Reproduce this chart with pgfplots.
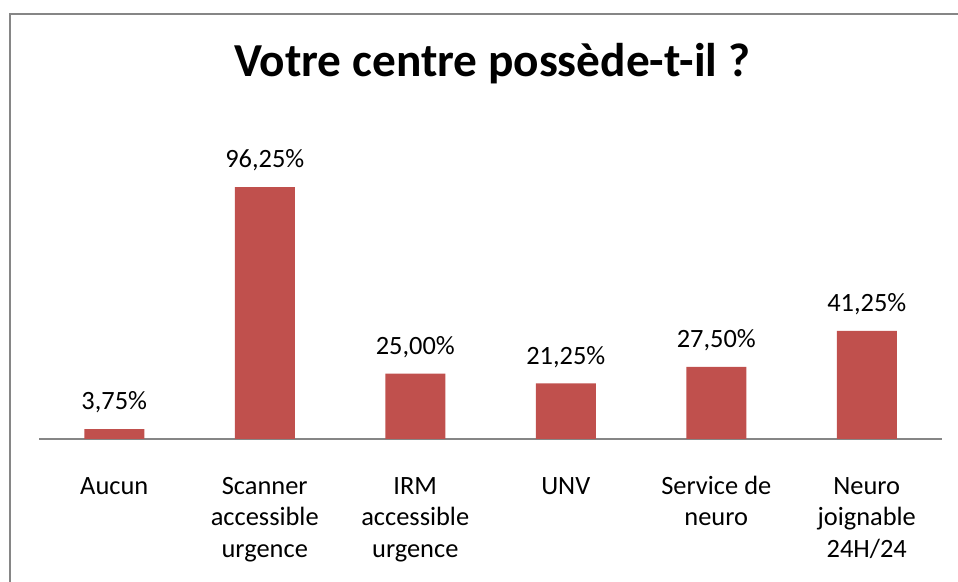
\documentclass[border=0pt]{standalone}
\usepackage{pgfplots}
\pgfplotsset{compat=1.18}
\usepackage{fontspec}
\setmainfont{Carlito}
\definecolor{barred}{RGB}{192,80,77}
\definecolor{framegray}{RGB}{134,134,134}
\begin{document}
\begin{tikzpicture}[x=1bp,y=1bp]
\useasboundingbox (0,0) rectangle (958,582);
\draw[framegray, line width=2.5bp] (10,-5) -- (10,568) -- (963,568);
\node[anchor=base, inner sep=0pt, font=\fontsize{47.5}{55}\selectfont\bfseries] at (492,505) {Votre centre possède-t-il ?};
\begin{axis}[
  at={(39bp,143bp)}, anchor=south west,
  scale only axis, width=903bp, height=261.8bp,
  xmin=-0.5, xmax=5.5, ymin=0, ymax=100,
  ybar, bar width=60bp,
  axis y line=none, axis x line*=bottom,
  x axis line style={-, framegray, line width=1.5bp},
  xtick={0,1,2,3,4,5},
  xticklabels={\strut Aucun,{\strut Scanner\\accessible\\urgence},{\strut IRM\\accessible\\urgence},\strut UNV,{\strut Service de\\neuro},{\strut Neuro\\joignable\\24H/24}},
  xticklabel style={align=center, font=\fontsize{26.5}{32}\selectfont, inner sep=0pt, anchor=north, yshift=-32.6bp},
  major tick length=0pt,
  clip=false,
  nodes near coords,
  point meta=explicit symbolic,
  every node near coord/.append style={font=\fontsize{26.5}{30}\selectfont, inner sep=0pt, anchor=south, text depth=0pt, yshift=19bp},
]
\addplot[fill=barred, draw=none] coordinates {
  (0,3.75) [3,75\%]
  (1,96.25) [96,25\%]
  (2,25.00) [25,00\%]
  (3,21.25) [21,25\%]
  (4,27.50) [27,50\%]
  (5,41.25) [41,25\%]
};
\end{axis}
\end{tikzpicture}
\end{document}
